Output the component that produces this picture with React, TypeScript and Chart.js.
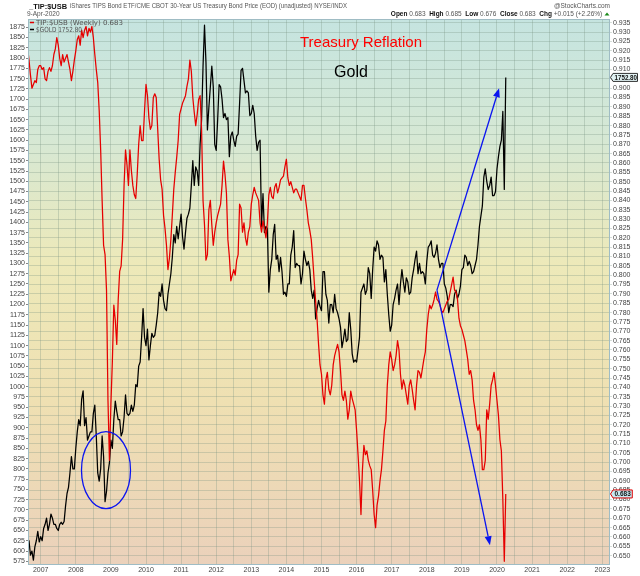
import React, { useEffect, useRef } from 'react';
import { Chart, registerables } from 'chart.js';

Chart.register(...registerables);

// Half-monthly samples starting mid-Aug 2006 (1st and 15th of each month)
const START_YEAR = 2006.625;
const STEP = 1 / 24;

// $GOLD (left axis)
const gold2006 = [630, 625, 590, 600, 578, 610, 625, 648, 622];
const gold2007 = [635, 625, 655, 665, 680, 650, 665, 690, 680, 665, 665, 655, 650, 665, 670, 665, 672, 710, 740, 755, 790, 830, 800, 800];
const gold2008 = [850, 890, 920, 905, 970, 990, 905, 925, 870, 880, 890, 890, 935, 955, 880, 790, 770, 800, 880, 830, 720, 745, 790, 815];
const gold2009 = [870, 850, 920, 965, 940, 920, 920, 880, 890, 925, 980, 935, 930, 935, 955, 940, 955, 1005, 1000, 1050, 1060, 1120, 1190, 1120];
const gold2010 = [1100, 1140, 1065, 1100, 1130, 1120, 1125, 1150, 1180, 1230, 1220, 1250, 1210, 1190, 1185, 1225, 1250, 1275, 1315, 1370, 1350, 1390, 1360, 1390];
const gold2011 = [1420, 1365, 1335, 1375, 1410, 1420, 1435, 1490, 1550, 1490, 1535, 1525, 1490, 1590, 1650, 1780, 1880, 1790, 1625, 1680, 1730, 1780, 1730, 1590];
const gold2012 = [1575, 1650, 1735, 1730, 1700, 1655, 1665, 1650, 1655, 1560, 1610, 1620, 1600, 1585, 1610, 1615, 1690, 1770, 1775, 1745, 1715, 1720, 1715, 1660];
const gold2013 = [1665, 1685, 1665, 1610, 1575, 1595, 1600, 1390, 1470, 1375, 1390, 1385, 1230, 1285, 1310, 1370, 1395, 1310, 1320, 1280, 1315, 1280, 1225, 1230];
const gold2014 = [1220, 1250, 1250, 1320, 1340, 1380, 1290, 1300, 1295, 1295, 1250, 1275, 1330, 1310, 1295, 1305, 1285, 1235, 1215, 1235, 1165, 1190, 1210, 1195];
const gold2015 = [1185, 1280, 1280, 1225, 1210, 1155, 1200, 1200, 1180, 1225, 1190, 1180, 1165, 1145, 1095, 1115, 1140, 1110, 1115, 1180, 1140, 1080, 1060, 1065];
const gold2016 = [1060, 1090, 1120, 1230, 1240, 1250, 1225, 1235, 1290, 1275, 1215, 1285, 1340, 1330, 1355, 1345, 1310, 1320, 1315, 1255, 1285, 1225, 1175, 1135];
const gold2017 = [1150, 1200, 1215, 1235, 1250, 1200, 1250, 1285, 1255, 1230, 1265, 1255, 1225, 1230, 1265, 1285, 1310, 1330, 1275, 1300, 1275, 1280, 1275, 1250];
const gold2018 = [1305, 1340, 1345, 1355, 1320, 1315, 1325, 1345, 1310, 1290, 1300, 1300, 1250, 1240, 1220, 1180, 1200, 1200, 1195, 1225, 1235, 1215, 1225, 1245];
const gold2019 = [1285, 1290, 1320, 1315, 1295, 1305, 1295, 1275, 1280, 1295, 1310, 1345, 1390, 1415, 1440, 1510, 1530, 1500, 1480, 1490, 1510, 1465, 1465, 1475];
const gold2020 = [1530, 1560, 1585, 1600, 1670, 1480, 1752.8];

// TIP:$USB ratio (right axis)
const ratio2006 = [0.922, 0.915, 0.907, 0.900, 0.902, 0.904, 0.903, 0.910, 0.912];
const ratio2007 = [0.912, 0.910, 0.911, 0.905, 0.904, 0.909, 0.911, 0.909, 0.912, 0.918, 0.921, 0.927, 0.923, 0.916, 0.912, 0.918, 0.914, 0.916, 0.918, 0.914, 0.910, 0.904, 0.909, 0.915];
const ratio2008 = [0.920, 0.926, 0.928, 0.923, 0.931, 0.927, 0.931, 0.933, 0.928, 0.932, 0.930, 0.933, 0.927, 0.918, 0.910, 0.903, 0.888, 0.867, 0.840, 0.816, 0.811, 0.792, 0.733, 0.701];
const ratio2009 = [0.731, 0.754, 0.784, 0.776, 0.763, 0.787, 0.802, 0.805, 0.819, 0.848, 0.867, 0.859, 0.848, 0.867, 0.856, 0.848, 0.843, 0.841, 0.854, 0.870, 0.880, 0.872, 0.872, 0.888];
const ratio2010 = [0.902, 0.896, 0.884, 0.878, 0.880, 0.895, 0.897, 0.895, 0.878, 0.862, 0.851, 0.846, 0.832, 0.825, 0.816, 0.803, 0.809, 0.819, 0.832, 0.846, 0.855, 0.863, 0.872, 0.886];
const ratio2011 = [0.889, 0.892, 0.894, 0.896, 0.901, 0.905, 0.915, 0.909, 0.895, 0.887, 0.880, 0.886, 0.894, 0.896, 0.878, 0.840, 0.827, 0.808, 0.811, 0.835, 0.840, 0.827, 0.816, 0.823];
const ratio2012 = [0.828, 0.832, 0.835, 0.838, 0.848, 0.861, 0.854, 0.844, 0.819, 0.810, 0.797, 0.800, 0.803, 0.800, 0.808, 0.811, 0.838, 0.836, 0.823, 0.828, 0.820, 0.816, 0.823, 0.826];
const ratio2013 = [0.838, 0.843, 0.847, 0.844, 0.842, 0.840, 0.828, 0.823, 0.829, 0.825, 0.820, 0.828, 0.843, 0.847, 0.842, 0.841, 0.847, 0.849, 0.844, 0.847, 0.851, 0.852, 0.853, 0.858];
const ratio2014 = [0.862, 0.852, 0.848, 0.850, 0.847, 0.844, 0.846, 0.846, 0.844, 0.842, 0.840, 0.848, 0.848, 0.841, 0.835, 0.828, 0.824, 0.819, 0.809, 0.797, 0.786, 0.776, 0.763, 0.752];
const ratio2015 = [0.747, 0.736, 0.731, 0.744, 0.748, 0.739, 0.736, 0.741, 0.752, 0.757, 0.760, 0.763, 0.759, 0.749, 0.736, 0.733, 0.738, 0.733, 0.723, 0.728, 0.738, 0.734, 0.731, 0.728];
const ratio2016 = [0.717, 0.704, 0.690, 0.672, 0.696, 0.709, 0.704, 0.706, 0.701, 0.698, 0.696, 0.685, 0.672, 0.665, 0.677, 0.682, 0.690, 0.696, 0.706, 0.717, 0.722, 0.741, 0.752, 0.759];
const ratio2017 = [0.755, 0.749, 0.752, 0.757, 0.765, 0.760, 0.747, 0.739, 0.744, 0.741, 0.736, 0.731, 0.741, 0.744, 0.739, 0.733, 0.728, 0.741, 0.749, 0.748, 0.745, 0.750, 0.755, 0.759];
const ratio2018 = [0.771, 0.779, 0.784, 0.782, 0.784, 0.787, 0.791, 0.787, 0.786, 0.784, 0.781, 0.780, 0.782, 0.784, 0.786, 0.787, 0.791, 0.795, 0.799, 0.792, 0.791, 0.787, 0.777, 0.773];
const ratio2019 = [0.771, 0.768, 0.765, 0.760, 0.755, 0.747, 0.749, 0.744, 0.733, 0.728, 0.720, 0.717, 0.720, 0.712, 0.696, 0.696, 0.701, 0.728, 0.723, 0.731, 0.741, 0.744, 0.748, 0.741];
const ratio2020 = [0.733, 0.725, 0.712, 0.706, 0.680, 0.647, 0.683];

const goldValues = [
  ...gold2006, ...gold2007, ...gold2008, ...gold2009, ...gold2010, ...gold2011, ...gold2012,
  ...gold2013, ...gold2014, ...gold2015, ...gold2016, ...gold2017, ...gold2018, ...gold2019, ...gold2020,
];
const ratioValues = [
  ...ratio2006, ...ratio2007, ...ratio2008, ...ratio2009, ...ratio2010, ...ratio2011, ...ratio2012,
  ...ratio2013, ...ratio2014, ...ratio2015, ...ratio2016, ...ratio2017, ...ratio2018, ...ratio2019, ...ratio2020,
];
const dates = goldValues.map((_, i) => START_YEAR + i * STEP);

// Axes
const X_MIN = 2006.638;
const X_MAX = 2023.22;
const yearTicks = [2007, 2008, 2009, 2010, 2011, 2012, 2013, 2014, 2015, 2016, 2017, 2018, 2019, 2020, 2021, 2022, 2023];
const halfYearGrid = yearTicks.flatMap((y) => [y, y + 0.5]).filter((v) => v <= X_MAX);
const GOLD_MIN = 566;
const GOLD_MAX = 1895;
const goldTicks = Array.from({ length: 53 }, (_, i) => 575 + i * 25);
const RATIO_MIN = 0.645;
const RATIO_MAX = 0.937;
const ratioTicks = Array.from({ length: 58 }, (_, i) => +(0.65 + i * 0.005).toFixed(3));

const LAST_GOLD = 1752.8;
const LAST_RATIO = 0.683;

const FONT = '"Liberation Sans", Arial, sans-serif';

function drawArrow(ctx: CanvasRenderingContext2D, x1: number, y1: number, x2: number, y2: number) {
  const ang = Math.atan2(y2 - y1, x2 - x1);
  const head = 9;
  const hw = 3.5;
  const bx = x2 - head * Math.cos(ang);
  const by = y2 - head * Math.sin(ang);
  ctx.beginPath();
  ctx.moveTo(x1, y1);
  ctx.lineTo(bx, by);
  ctx.stroke();
  ctx.beginPath();
  ctx.moveTo(x2, y2);
  ctx.lineTo(bx + hw * Math.sin(ang), by - hw * Math.cos(ang));
  ctx.lineTo(bx - hw * Math.sin(ang), by + hw * Math.cos(ang));
  ctx.closePath();
  ctx.fill();
}

const overlayPlugin = {
  id: 'overlay',
  beforeDraw(chart: any) {
    const { ctx, chartArea: a } = chart;
    ctx.save();
    ctx.fillStyle = '#ffffff';
    ctx.fillRect(0, 0, chart.width, chart.height);
    const g = ctx.createLinearGradient(0, a.top, 0, a.bottom);
    g.addColorStop(0, '#c5e4e0');
    g.addColorStop(0.22, '#d6e8d4');
    g.addColorStop(0.45, '#ede9b9');
    g.addColorStop(0.7, '#efe0b2');
    g.addColorStop(1, '#ebd1bb');
    ctx.fillStyle = g;
    ctx.fillRect(a.left, a.top, a.right - a.left, a.bottom - a.top);
    ctx.restore();
  },
  afterDatasetsDraw(chart: any) {
    const { ctx, chartArea: a } = chart;
    const xs = chart.scales.x;
    const yr = chart.scales.yRatio;
    ctx.save();
    // Blue ellipse around 2008 low
    ctx.strokeStyle = '#0a14f0';
    ctx.fillStyle = '#0a14f0';
    ctx.lineWidth = 1.3;
    const cx = xs.getPixelForValue(2008.86);
    const cy = yr.getPixelForValue(0.6957);
    const rx = xs.getPixelForValue(2008.86 + 0.698) - cx;
    const ry = cy - yr.getPixelForValue(0.6957 + 0.0206);
    ctx.beginPath();
    ctx.ellipse(cx, cy, rx, ry, 0, 0, Math.PI * 2);
    ctx.stroke();
    // Arrows
    const sx = xs.getPixelForValue(2018.29);
    const sy = yr.getPixelForValue(0.792);
    drawArrow(ctx, sx, sy, xs.getPixelForValue(2020.06), yr.getPixelForValue(0.9));
    drawArrow(ctx, sx, sy, xs.getPixelForValue(2019.8), yr.getPixelForValue(0.6556));
    // Annotation text
    ctx.textAlign = 'center';
    ctx.textBaseline = 'alphabetic';
    ctx.fillStyle = '#ff0000';
    ctx.font = `15px ${FONT}`;
    ctx.fillText('Treasury Reflation', 361, 46.5);
    ctx.fillStyle = '#000000';
    ctx.font = `16px ${FONT}`;
    ctx.fillText('Gold', 351, 77);
    // Legend
    ctx.textAlign = 'left';
    ctx.font = `7px "DejaVu Sans", sans-serif`;
    ctx.lineWidth = 1.5;
    ctx.strokeStyle = '#e00000';
    ctx.beginPath();
    ctx.moveTo(a.left + 2, 22.5);
    ctx.lineTo(a.left + 6, 22.5);
    ctx.stroke();
    ctx.strokeStyle = '#000';
    ctx.beginPath();
    ctx.moveTo(a.left + 2, 29.5);
    ctx.lineTo(a.left + 6, 29.5);
    ctx.stroke();
    ctx.fillStyle = '#555';
    ctx.fillText('TIP:$USB (Weekly) 0.683', a.left + 8, 25, 97);
    ctx.fillText('$GOLD 1752.80', a.left + 8, 32, 46);
    ctx.restore();
  },
  afterDraw(chart: any) {
    const { ctx, chartArea: a } = chart;
    ctx.save();
    // Plot border
    ctx.strokeStyle = '#9fbcc4';
    ctx.lineWidth = 1;
    ctx.strokeRect(a.left + 0.5, a.top + 0.5, a.right - a.left - 1, a.bottom - a.top - 1);

    // Header
    ctx.textBaseline = 'alphabetic';
    ctx.textAlign = 'left';
    ctx.fillStyle = '#111';
    ctx.font = `bold 8px ${FONT}`;
    ctx.fillText('_TIP:$USB', 29, 8.5, 38);
    ctx.fillStyle = '#555';
    ctx.font = `6.5px ${FONT}`;
    ctx.fillText('iShares TIPS Bond ETF/CME CBOT 30-Year US Treasury Bond Price (EOD) (unadjusted) NYSE/INDX', 70, 8, 277);
    ctx.fillText('9-Apr-2020', 27, 15.5);
    ctx.textAlign = 'right';
    ctx.fillText('@StockCharts.com', 610, 7.5);

    const segs: [string, boolean][] = [
      ['Open ', true], ['0.683  ', false], ['High ', true], ['0.685  ', false],
      ['Low ', true], ['0.676  ', false], ['Close ', true], ['0.683  ', false],
      ['Chg ', true], ['+0.015 (+2.26%) ', false],
    ];
    let total = 0;
    const widths = segs.map(([t, b]) => {
      ctx.font = `${b ? 'bold ' : ''}6.5px ${FONT}`;
      const w = ctx.measureText(t).width;
      total += w;
      return w;
    });
    let x = 604 - total;
    ctx.textAlign = 'left';
    segs.forEach(([t, b], i) => {
      ctx.font = `${b ? 'bold ' : ''}6.5px ${FONT}`;
      ctx.fillStyle = b ? '#111' : '#555';
      ctx.fillText(t, x, 16);
      x += widths[i];
    });
    ctx.fillStyle = '#1a8a1a';
    ctx.beginPath();
    ctx.moveTo(x + 0.5, 15.5);
    ctx.lineTo(x + 5.5, 15.5);
    ctx.lineTo(x + 3, 12.5);
    ctx.closePath();
    ctx.fill();

    // Last-value tags on right axis
    const drawTag = (yy: number, text: string, border: string, fill: string) => {
      const x0 = a.right + 0.5;
      const h = 8;
      ctx.font = `bold 6.5px ${FONT}`;
      const w = Math.min(ctx.measureText(text).width + 3, 640 - x0 - 5);
      ctx.beginPath();
      ctx.moveTo(x0, yy);
      ctx.lineTo(x0 + 2.5, yy - h / 2);
      ctx.lineTo(x0 + 2.5 + w, yy - h / 2);
      ctx.lineTo(x0 + 2.5 + w, yy + h / 2);
      ctx.lineTo(x0 + 2.5, yy + h / 2);
      ctx.closePath();
      ctx.fillStyle = fill;
      ctx.fill();
      ctx.strokeStyle = border;
      ctx.lineWidth = 1;
      ctx.stroke();
      ctx.fillStyle = '#111';
      ctx.textAlign = 'left';
      ctx.textBaseline = 'middle';
      ctx.fillText(text, x0 + 4, yy + 0.5, w - 2);
    };
    drawTag(chart.scales.yGold.getPixelForValue(LAST_GOLD), LAST_GOLD.toFixed(2), '#333', '#e3f3f4');
    drawTag(chart.scales.yRatio.getPixelForValue(LAST_RATIO), LAST_RATIO.toFixed(3), '#e00000', '#c6e9f2');
    ctx.restore();
  },
};

export default function App() {
  const ref = useRef<HTMLCanvasElement | null>(null);

  useEffect(() => {
    document.body.style.margin = '0';
    const canvas = ref.current;
    if (!canvas) return;
    const gridColor = 'rgba(120, 145, 130, 0.3)';
    const tickFont = { size: 7, family: '"Liberation Sans", Arial, sans-serif' };
    const chart = new Chart(canvas, {
      type: 'line',
      data: {
        datasets: [
          {
            label: 'TIP:$USB',
            data: dates.map((d, i) => ({ x: d, y: ratioValues[i] })),
            yAxisID: 'yRatio',
            borderColor: '#e60000',
            borderWidth: 1.25,
            pointRadius: 0,
            tension: 0,
            borderJoinStyle: 'round',
          },
          {
            label: '$GOLD',
            data: dates.map((d, i) => ({ x: d, y: goldValues[i] })),
            yAxisID: 'yGold',
            borderColor: '#000000',
            borderWidth: 1.25,
            pointRadius: 0,
            tension: 0,
            borderJoinStyle: 'round',
          },
        ],
      },
      options: {
        animation: false,
        responsive: false,
        maintainAspectRatio: false,
        layout: { padding: { top: 19, left: 0, right: 0, bottom: 0 } },
        plugins: { legend: { display: false }, tooltip: { enabled: false } },
        scales: {
          x: {
            type: 'linear',
            min: X_MIN,
            max: X_MAX,
            afterBuildTicks: (s: any) => {
              s.ticks = halfYearGrid.map((v) => ({ value: v }));
            },
            afterFit: (s: any) => {
              s.height = 11;
            },
            ticks: {
              autoSkip: false,
              maxRotation: 0,
              padding: 1,
              font: tickFont,
              color: '#444',
              callback: (v: any) => (Number.isInteger(v) ? String(v) : ''),
            },
            grid: { color: gridColor, drawTicks: false },
            border: { display: false },
          },
          yGold: {
            type: 'linear',
            position: 'left',
            min: GOLD_MIN,
            max: GOLD_MAX,
            afterBuildTicks: (s: any) => {
              s.ticks = goldTicks.map((v) => ({ value: v }));
            },
            afterFit: (s: any) => {
              s.width = 28;
            },
            ticks: { autoSkip: false, padding: 1, font: tickFont, color: '#444', callback: (v: any) => String(v) },
            grid: { drawOnChartArea: false, tickLength: 2, color: '#888' },
            border: { display: false },
          },
          yRatio: {
            type: 'linear',
            position: 'right',
            min: RATIO_MIN,
            max: RATIO_MAX,
            afterBuildTicks: (s: any) => {
              s.ticks = ratioTicks.map((v) => ({ value: v }));
            },
            afterFit: (s: any) => {
              s.width = 30;
            },
            ticks: { autoSkip: false, padding: 1, font: tickFont, color: '#444', callback: (v: any) => Number(v).toFixed(3) },
            grid: { color: gridColor, tickLength: 2 },
            border: { display: false },
          },
        },
      },
      plugins: [overlayPlugin],
    } as any);
    return () => chart.destroy();
  }, []);

  return (
    <div style={{ width: 640, height: 576 }}>
      <canvas ref={ref} width={640} height={576} style={{ display: 'block', width: 640, height: 576 }} />
    </div>
  );
}
